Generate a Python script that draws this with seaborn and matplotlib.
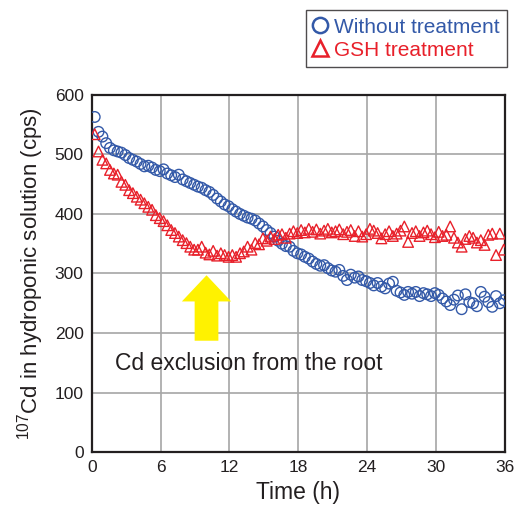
import numpy as np
import pandas as pd
import matplotlib
matplotlib.use("Agg")
import matplotlib.pyplot as plt
from matplotlib.lines import Line2D
import seaborn as sns

# ---- data ----
time_h = [
    0.25, 0.58, 0.92, 1.25, 1.58, 1.92, 2.25, 2.58, 2.92, 3.25, 3.58, 3.92,
    4.25, 4.58, 4.92, 5.25, 5.58, 5.92, 6.25, 6.58, 6.92, 7.25, 7.58, 7.92,
    8.25, 8.58, 8.92, 9.25, 9.58, 9.92, 10.25, 10.58, 10.92, 11.25, 11.58, 11.92,
    12.25, 12.58, 12.92, 13.25, 13.58, 13.92, 14.25, 14.58, 14.92, 15.25, 15.58, 15.92,
    16.25, 16.58, 16.92, 17.25, 17.58, 17.92, 18.25, 18.58, 18.92, 19.25, 19.58, 19.92,
    20.25, 20.58, 20.92, 21.25, 21.58, 21.92, 22.25, 22.58, 22.92, 23.25, 23.58, 23.92,
    24.25, 24.58, 24.92, 25.25, 25.58, 25.92, 26.25, 26.58, 26.92, 27.25, 27.58, 27.92,
    28.25, 28.58, 28.92, 29.25, 29.58, 29.92, 30.25, 30.58, 30.92, 31.25, 31.58, 31.92,
    32.25, 32.58, 32.92, 33.25, 33.58, 33.92, 34.25, 34.58, 34.92, 35.25, 35.58, 35.92,
]
without_treatment = [
    563, 538, 530, 519, 511, 507, 505, 503, 499, 494, 491, 488,
    484, 480, 481, 478, 474, 472, 475, 468, 465, 462, 466, 458,
    455, 452, 449, 446, 444, 440, 437, 432, 426, 421, 416, 413,
    408, 404, 400, 397, 394, 392, 389, 384, 379, 373, 368, 362,
    355, 350, 346, 345, 338, 334, 332, 328, 325, 320, 316, 313,
    314, 309, 305, 303, 306, 296, 289, 298, 293, 295, 289, 287,
    284, 280, 284, 278, 275, 283, 286, 271, 268, 264, 269, 266,
    269, 262, 267, 265, 262, 267, 264, 258, 253, 247, 256, 263,
    240, 265, 252, 250, 245, 269, 261, 252, 244, 262, 250, 255,
]
gsh_treatment = [
    534, 505, 491, 485, 474, 468, 466, 454, 449, 440, 435, 429,
    424, 418, 412, 407, 398, 393, 388, 381, 373, 368, 362, 356,
    351, 345, 340, 340, 345, 335, 332, 338, 330, 334, 331, 328,
    331, 328, 334, 337, 345, 340, 351, 349, 359, 355, 362, 358,
    365, 366, 360, 367, 371, 368, 373, 369, 375, 370, 374, 367,
    372, 375, 369, 371, 374, 366, 370, 373, 363, 371, 362, 366,
    375, 372, 368, 359, 366, 371, 363, 367, 372, 379, 353, 368,
    371, 363, 369, 372, 366, 361, 370, 363, 365, 379, 360, 352,
    345, 358, 363, 360, 352, 356, 348, 365, 367, 331, 367, 340,
]
series_names = ["Without treatment", "GSH treatment"]
x_ticks = [0, 6, 12, 18, 24, 30, 36]
y_ticks = [0, 100, 200, 300, 400, 500, 600]

df_without = pd.DataFrame({"time": time_h, "value": without_treatment})
df_gsh = pd.DataFrame({"time": time_h, "value": gsh_treatment})

# ---- style ----
sns.set_style("white")
plt.rcParams["font.family"] = ["Liberation Sans", "DejaVu Sans"]
plt.rcParams["mathtext.fontset"] = "custom"
plt.rcParams["mathtext.rm"] = "Liberation Sans"
plt.rcParams["mathtext.it"] = "Liberation Sans"
plt.rcParams["mathtext.default"] = "regular"

text_col = "#231f20"
blue = "#3359a8"
red = "#e8202a"

fig = plt.figure(figsize=(5.16, 5.16), dpi=100)
ax = fig.add_axes([0.178, 0.124, 0.800, 0.692])

sns.scatterplot(data=df_without, x="time", y="value", marker="o", s=58,
                facecolors="none", edgecolor=blue, linewidth=1.0,
                ax=ax, legend=False, zorder=3)
sns.scatterplot(data=df_gsh, x="time", y="value", marker="^", s=58,
                facecolors="none", edgecolor=red, linewidth=1.0,
                ax=ax, legend=False, zorder=4)
ax.collections[0].set_facecolor("none")
ax.collections[0].set_edgecolor(blue)
ax.collections[1].set_facecolor("none")
ax.collections[1].set_edgecolor(red)

ax.set_xlim(0, 36)
ax.set_ylim(0, 600)
ax.set_xticks(x_ticks)
ax.set_yticks(y_ticks)
ax.grid(True, color="#a6a6a6", linewidth=1.2, zorder=0)
ax.set_axisbelow(True)
for sp in ax.spines.values():
    sp.set_visible(True)
    sp.set_color("#231f20")
    sp.set_linewidth(1.6)
ax.tick_params(direction="in", length=5, width=1.3, colors=text_col,
               labelsize=12.5, pad=6)

ax.set_xlabel("Time (h)", fontsize=16.5, color=text_col, labelpad=4)
ax.set_ylabel("$^{107}$Cd in hydroponic solution (cps)", fontsize=16,
              color=text_col, labelpad=6)

# yellow arrow and annotation
ax.arrow(10, 187, 0, 110, width=2.07, head_width=4.3, head_length=44,
         length_includes_head=True, color="#fff200", zorder=2, linewidth=0)
ax.text(13.7, 148, "Cd exclusion from the root", fontsize=16.5,
        color=text_col, ha="center", va="center")

# legend above the axes
handles = [
    Line2D([], [], linestyle="none", marker="o", markersize=11,
           markerfacecolor="none", markeredgecolor=blue, markeredgewidth=1.8),
    Line2D([], [], linestyle="none", marker="^", markersize=12,
           markerfacecolor="none", markeredgecolor=red, markeredgewidth=1.8),
]
leg = fig.legend(handles, series_names, loc="upper right",
                 bbox_to_anchor=(0.982, 0.98), fontsize=15, frameon=True,
                 fancybox=False, handlelength=0.7, handletextpad=0.3,
                 borderpad=0.35, labelspacing=0.2, borderaxespad=0)
leg.get_frame().set_edgecolor("#231f20")
leg.get_frame().set_linewidth(1.0)
leg.get_texts()[0].set_color(blue)
leg.get_texts()[1].set_color(red)

fig.savefig("out.png", dpi=100)
